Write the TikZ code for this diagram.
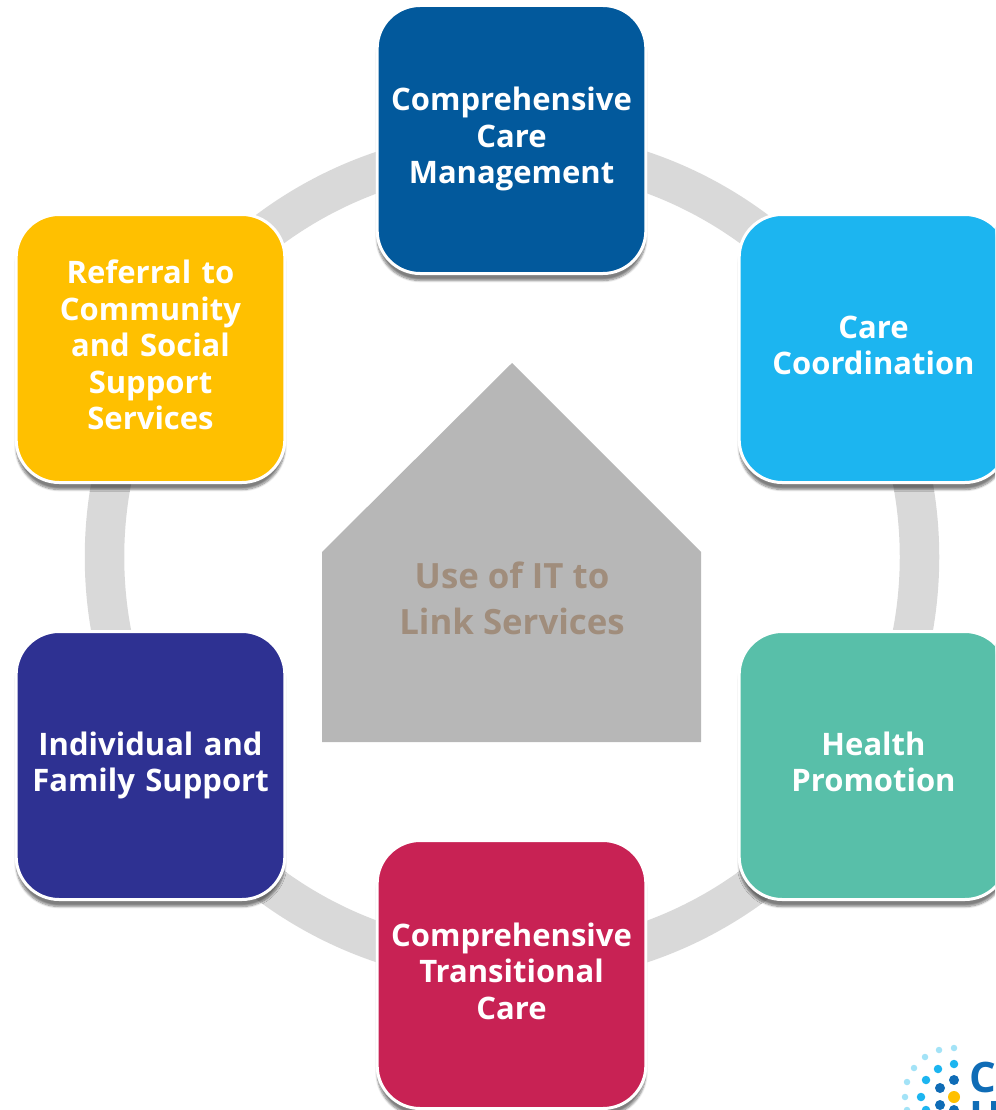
\documentclass[tikz,border=0pt]{standalone}
\usepackage{fontspec}
\setmainfont{Open Sans}
\usetikzlibrary{positioning, shadows.blur}
\definecolor{ringgray}{HTML}{D9D9D9}
\definecolor{housegray}{HTML}{B7B7B7}
\definecolor{housetext}{HTML}{A08D7C}
\definecolor{logoblue}{HTML}{0F6CB6}
\definecolor{logosky}{HTML}{1CB5F0}
\definecolor{logopale}{HTML}{A3E3F7}
\definecolor{logoyellow}{HTML}{FFC000}
\definecolor{navyblue}{HTML}{02599C}
\definecolor{skyblue}{HTML}{1CB5F0}
\definecolor{seagreen}{HTML}{58BFA9}
\definecolor{crimson}{HTML}{C82254}
\definecolor{indigo}{HTML}{2E3192}
\definecolor{amber}{HTML}{FFC000}

\begin{document}
\begin{tikzpicture}[
        x=1pt, y=-1pt,
        box/.style = {draw=white, line width=3pt, rounded corners=43pt, minimum width=268pt, minimum height=268pt,
            align=center, text=white, font=\fontsize{31}{36.5}\selectfont\bfseries, text width=262pt,
            execute at begin node=\rule[-10pt]{0pt}{36pt}, execute at end node=\rule[-10pt]{0pt}{36pt},
            blur shadow={shadow xshift=0pt, shadow yshift=-7pt, shadow blur steps=8, shadow opacity=50}},
        dot/.style = {circle, inner sep=0pt}
        ]
        \clip (0,0) rectangle (995,1110);
        \useasboundingbox (0,0) rectangle (995,1110);

        % ring
        \node[circle, draw=ringgray, line width=39.5pt, minimum size=815pt, inner sep=0pt] (ring) at (512,557) {};

        % house
        \draw[fill=housegray, draw=none] (512,363) -- (701,552) -- (701,742) -- (322,742) -- (322,552) -- cycle;
        \node[text=housetext, align=center, font=\fontsize{34.8}{46}\selectfont\bfseries] (house) at (512,598.5) {Use of IT to\\Link Services};

        % boxes
        \node[box, fill=navyblue] (care) at (511.5,139.5) {Comprehensive\\Care\\Management};
        \node[box, fill=skyblue] (coord) at (873.5,348.5) {Care\\Coordination};
        \node[box, fill=seagreen] (health) at (873.5,765.5) {Health\\Promotion};
        \node[box, fill=crimson] (trans) at (511.5,974.5) {Comprehensive\\Transitional\\Care};
        \node[box, fill=indigo] (family) at (150.5,765.5) {Individual and\\Family Support};
        \node[box, fill=amber] (referral) at (150.5,348.5) {Referral to\\Community\\and Social\\Support\\Services};

        % logo
        \foreach \px/\py in {954/1048, 939/1050, 925/1057, 914/1068, 907/1082, 905/1097, 907/1110}
            \node[dot, fill=logopale, minimum size=6.5pt] at (\px,\py) {};
        \foreach \px/\py in {954/1064, 938/1069, 926/1080, 921/1097, 926/1110}
            \node[dot, fill=logosky, minimum size=8.5pt] at (\px,\py) {};
        \foreach \px/\py in {954/1080, 940/1088, 940/1105, 954/1110}
            \node[dot, fill=logoblue, minimum size=10pt] at (\px,\py) {};
        \node[dot, fill=logoyellow, minimum size=12pt] (logodot) at (954,1097) {};
        \node[text=logoblue, font=\fontsize{42}{42}\selectfont\bfseries, inner sep=0pt, anchor=base west] (logoc) at (969,1092.5) {C};
        \node[text=logoblue, font=\fontsize{42}{42}\selectfont\bfseries, inner sep=0pt, anchor=base west] (logoh) at (969,1131) {H};

\end{tikzpicture}
\end{document}
